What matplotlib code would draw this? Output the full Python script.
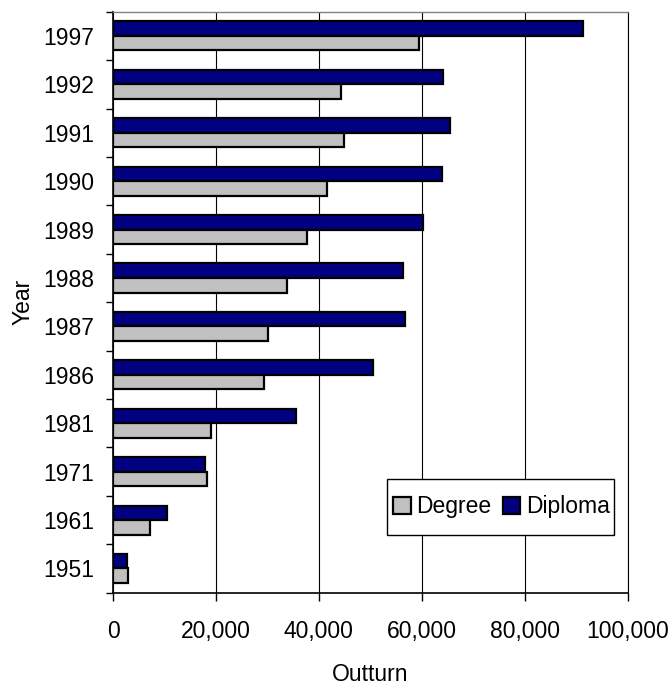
import matplotlib
matplotlib.use("Agg")
import matplotlib.pyplot as plt
from matplotlib.patches import Rectangle
import numpy as np

years = ["1951", "1961", "1971", "1981", "1986", "1987", "1988", "1989", "1990", "1991", "1992", "1997"]
degree = [3000, 7100, 18300, 19100, 29400, 30100, 33900, 37800, 41500, 44900, 44300, 59400]
diploma = [2800, 10500, 17800, 35600, 50600, 56800, 56400, 60200, 63900, 65500, 64100, 91400]
xticks = [0, 20000, 40000, 60000, 80000, 100000]
xticklabels = ["0", "20,000", "40,000", "60,000", "80,000", "100,000"]

plt.rcParams['font.family'] = ['Liberation Sans', 'DejaVu Sans']
FS = 16.5

W, H = 671, 685
L, R, T, B = 113, 627.5, 11.7, 592.7
fig = plt.figure(figsize=(W / 100, H / 100), dpi=100)
ax = fig.add_axes([L / W, (H - B) / H, (R - L) / W, (B - T) / H])

def ax_x(px):
    return (px - L) / (R - L)

def ax_y(py):
    return (B - py) / (B - T)

y = np.arange(len(years))
h = 0.30
ax.barh(y + h / 2, diploma, height=h, color="#000080", edgecolor="black", linewidth=1.6,
        label="Diploma", zorder=3)
ax.barh(y - h / 2, degree, height=h, color="#C0C0C0", edgecolor="black", linewidth=1.6,
        label="Degree", zorder=3)

ax.set_xlim(0, 100000)
ax.set_ylim(-0.5, len(years) - 0.5)
ax.set_xticks(xticks)
ax.set_xticklabels(xticklabels, fontsize=FS)
ax.set_yticks(y)
ax.set_yticklabels(years, fontsize=FS)
ax.set_yticks(np.arange(len(years) + 1) - 0.5, minor=True)
ax.tick_params(axis='y', which='major', length=0, pad=13.5)
ax.tick_params(axis='y', which='minor', length=5, width=1, color='black', direction='out')
ax.tick_params(axis='x', which='major', length=5.5, width=1, direction='out', pad=14)

ax.grid(axis='x', color='black', linewidth=0.8, zorder=0)
ax.set_axisbelow(True)

for s in ['left', 'bottom']:
    ax.spines[s].set_color('black')
    ax.spines[s].set_linewidth(1.2)
ax.spines['top'].set_color('#808080')
ax.spines['top'].set_linewidth(1.0)
ax.spines['right'].set_color('black')
ax.spines['right'].set_linewidth(0.8)

ax.set_xlabel("Outturn", fontsize=FS)
ax.set_ylabel("Year", fontsize=FS)
ax.xaxis.set_label_coords(0.5, ax_y(663))
ax.yaxis.set_label_coords(ax_x(35), 0.5)

# legend box
bx0, bx1, by0, by1 = 387.3, 614.0, 479.0, 535.0
ax.add_patch(Rectangle((ax_x(bx0), ax_y(by1)), ax_x(bx1) - ax_x(bx0), ax_y(by0) - ax_y(by1),
                       transform=ax.transAxes, facecolor='white', edgecolor='black',
                       linewidth=1.0, zorder=4, clip_on=False))

handles, labels = ax.get_legend_handles_labels()
leg = ax.legend(handles[::-1], labels[::-1], ncol=2, loc='center',
                bbox_to_anchor=(ax_x(501.7), ax_y(507)), fontsize=FS,
                frameon=False,
                handlelength=0.75, handleheight=0.75, handletextpad=0.26,
                columnspacing=0.5, borderpad=0, borderaxespad=0)
leg.set_zorder(5)

fig.savefig("out.png", dpi=100)
